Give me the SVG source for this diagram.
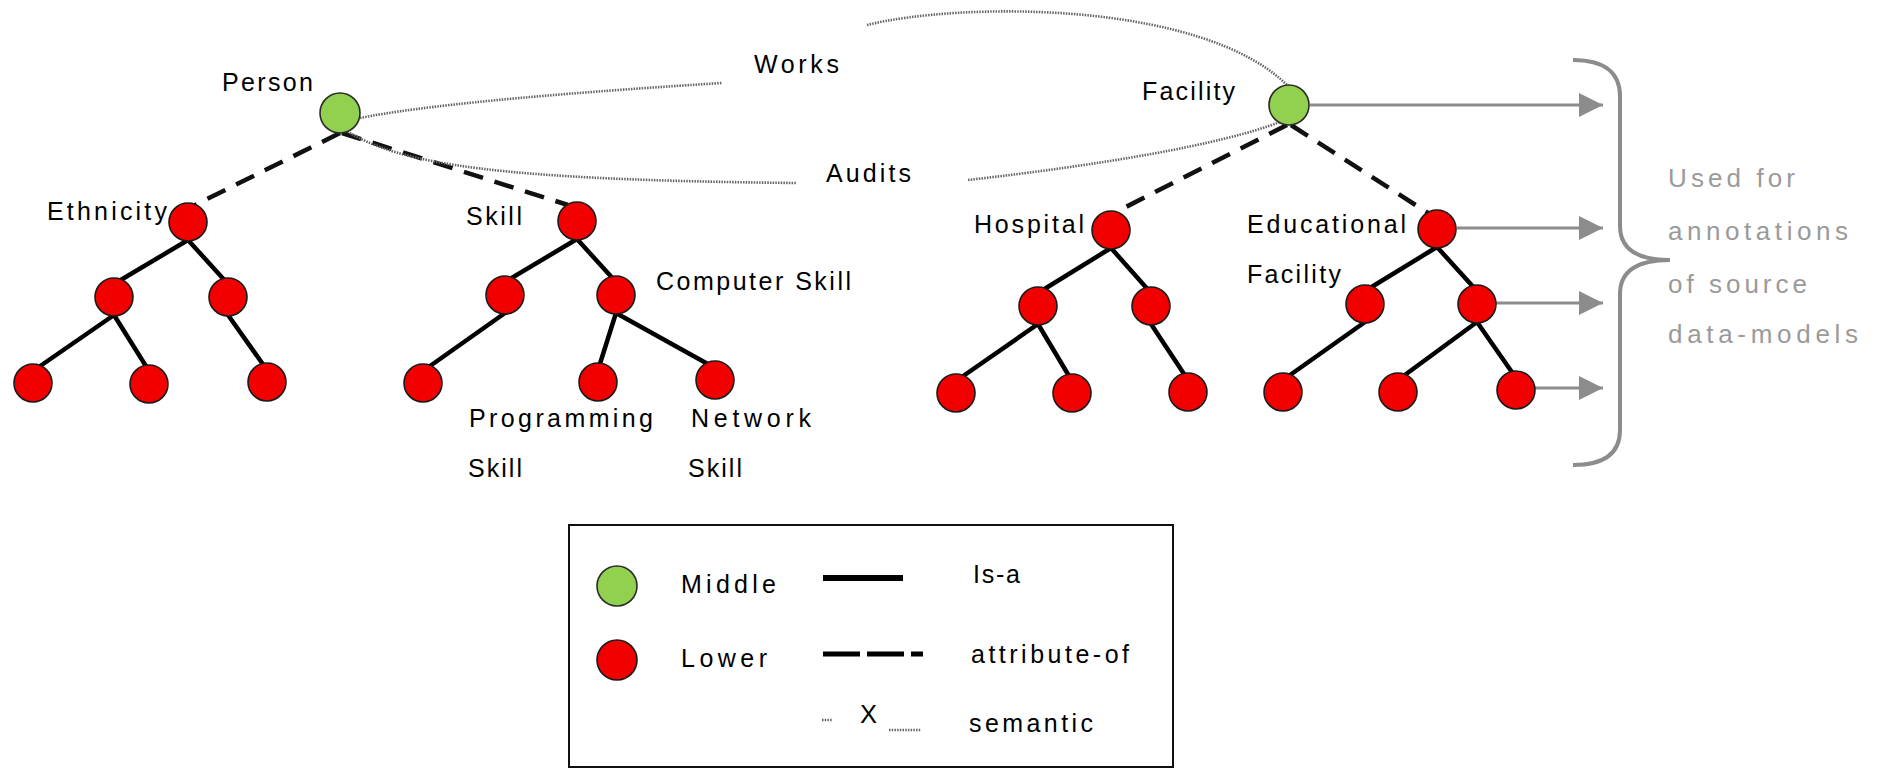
<svg xmlns="http://www.w3.org/2000/svg" width="1879" height="769" viewBox="0 0 1879 769">
  <style>
    .lbl { font-family: "Liberation Sans", Arial, sans-serif; font-size: 25px; fill: #000; }
    .note { font-family: "Liberation Sans", Arial, sans-serif; font-size: 26px; fill: #9a9a9a; }
    .mid { fill: #92d050; stroke: #2a2a2a; stroke-width: 1.6; }
    .low { fill: #f20000; stroke: #1a1a1a; stroke-width: 1.6; }
    .isa { stroke: #000; stroke-width: 4.5; fill: none; stroke-linecap: round; }
    .attr { stroke: #111; stroke-width: 4.5; fill: none; stroke-dasharray: 20 12; }
    .sem { stroke: #666; stroke-width: 2.6; fill: none; stroke-dasharray: 1.5 1.2; }
    .use { stroke: #8c8c8c; stroke-width: 3; fill: none; }
  </style>
  <defs>
    <marker id="tri" markerUnits="userSpaceOnUse" markerWidth="26" markerHeight="26" refX="24" refY="12" orient="auto">
      <path d="M0 0 L24 12 L0 24 Z" fill="#8c8c8c"/>
    </marker>
  </defs>

  <rect width="1879" height="769" fill="#fff"/>

  <!-- connectors -->
  <g id="connectors">
    <!-- is-a edges -->
    <path class="isa" d="M188 240 L114 284 M188 240 L228 284 M114 315 L33 371 M114 315 L149 371 M228 315 L267 370"/>
    <path class="isa" d="M577 239 L505 282 M577 239 L616 282 M505 313 L423 371 M616 313 L598 370 M616 313 L715 368"/>
    <path class="isa" d="M1111 248 L1038 293 M1111 248 L1151 293 M1038 324 L956 381 M1038 324 L1072 381 M1151 324 L1188 380"/>
    <path class="isa" d="M1437 247 L1365 291 M1437 247 L1477 291 M1365 322 L1283 380 M1477 322 L1398 380 M1477 322 L1516 378"/>
    <!-- attribute-of edges -->
    <path class="attr" d="M340 133 L195 205"/>
    <path class="attr" d="M342 133 L568 205"/>
    <path class="attr" d="M1287 125 L1116 212"/>
    <path class="attr" d="M1291 125 L1428 213"/>
    <!-- semantic relations -->
    <path class="sem" d="M360 118 Q 450 100 722 83"/>
    <path class="sem" d="M867 25 C 960 2 1200 0 1287 85"/>
    <path class="sem" d="M345 130 C 400 165 500 180 797 183"/>
    <path class="sem" d="M968 180 C 1100 165 1220 145 1280 122"/>
    <!-- annotation arrows -->
    <line class="use" x1="1310" y1="105" x2="1603" y2="105" marker-end="url(#tri)"/>
    <line class="use" x1="1457" y1="228" x2="1603" y2="228" marker-end="url(#tri)"/>
    <line class="use" x1="1496" y1="303" x2="1603" y2="303" marker-end="url(#tri)"/>
    <line class="use" x1="1535" y1="388" x2="1603" y2="388" marker-end="url(#tri)"/>
  </g>

  <!-- upper-level nodes -->
  <g id="person">
    <circle class="mid" cx="340" cy="113" r="20"/>
    <text class="lbl" x="222" y="91" textLength="91" lengthAdjust="spacing">Person</text>
  </g>
  <g id="facility">
    <circle class="mid" cx="1289" cy="105" r="20"/>
    <text class="lbl" x="1142" y="100" textLength="93" lengthAdjust="spacing">Facility</text>
  </g>

  <!-- Ethnicity tree -->
  <g id="ethnicity">
    <circle class="low" cx="188" cy="222" r="19"/>
    <text class="lbl" x="47" y="220" textLength="120" lengthAdjust="spacing">Ethnicity</text>
  </g>
  <g id="ethnicity-sub">
    <circle class="low" cx="114" cy="297" r="19"/>
    <circle class="low" cx="228" cy="297" r="19"/>
    <circle class="low" cx="33" cy="383" r="19"/>
    <circle class="low" cx="149" cy="384" r="19"/>
    <circle class="low" cx="267" cy="382" r="19"/>
  </g>

  <!-- Skill tree -->
  <g id="skill">
    <circle class="low" cx="577" cy="221" r="19"/>
    <text class="lbl" x="466" y="225" textLength="56" lengthAdjust="spacing">Skill</text>
  </g>
  <g id="skill-other">
    <circle class="low" cx="505" cy="295" r="19"/>
    <circle class="low" cx="423" cy="383" r="19"/>
  </g>
  <g id="computer-skill">
    <circle class="low" cx="616" cy="295" r="19"/>
    <text class="lbl" x="656" y="290" textLength="195" lengthAdjust="spacing">Computer Skill</text>
  </g>
  <g id="programming-skill">
    <circle class="low" cx="598" cy="382" r="19"/>
    <text class="lbl" x="469" y="427" textLength="184" lengthAdjust="spacing">Programming</text>
    <text class="lbl" x="468" y="477" textLength="54" lengthAdjust="spacing">Skill</text>
  </g>
  <g id="network-skill">
    <circle class="low" cx="715" cy="380" r="19"/>
    <text class="lbl" x="691" y="427" textLength="120" lengthAdjust="spacing">Network</text>
    <text class="lbl" x="688" y="477" textLength="54" lengthAdjust="spacing">Skill</text>
  </g>

  <!-- Hospital tree -->
  <g id="hospital">
    <circle class="low" cx="1111" cy="230" r="19"/>
    <text class="lbl" x="974" y="233" textLength="110" lengthAdjust="spacing">Hospital</text>
  </g>
  <g id="hospital-sub">
    <circle class="low" cx="1038" cy="306" r="19"/>
    <circle class="low" cx="1151" cy="306" r="19"/>
    <circle class="low" cx="956" cy="393" r="19"/>
    <circle class="low" cx="1072" cy="393" r="19"/>
    <circle class="low" cx="1188" cy="392" r="19"/>
  </g>

  <!-- Educational Facility tree -->
  <g id="educational-facility">
    <circle class="low" cx="1437" cy="229" r="19"/>
    <text class="lbl" x="1247" y="233" textLength="159" lengthAdjust="spacing">Educational</text>
    <text class="lbl" x="1247" y="283" textLength="94" lengthAdjust="spacing">Facility</text>
  </g>
  <g id="educational-sub">
    <circle class="low" cx="1365" cy="304" r="19"/>
    <circle class="low" cx="1477" cy="304" r="19"/>
    <circle class="low" cx="1283" cy="392" r="19"/>
    <circle class="low" cx="1398" cy="392" r="19"/>
    <circle class="low" cx="1516" cy="390" r="19"/>
  </g>

  <!-- relation labels -->
  <g id="rel-works">
    <text class="lbl" x="754" y="73" textLength="85" lengthAdjust="spacing">Works</text>
  </g>
  <g id="rel-audits">
    <text class="lbl" x="826" y="182" textLength="85" lengthAdjust="spacing">Audits</text>
  </g>

  <!-- brace and note -->
  <g id="annotation-note">
    <path d="M1573 60 C1606 60 1620 74 1620 96 L1620 226 C1620 250 1638 260 1670 260 C1638 260 1620 270 1620 294 L1620 430 C1620 452 1606 465 1573 465" fill="none" stroke="#8c8c8c" stroke-width="4"/>
    <text class="note" x="1668" y="187" textLength="127" lengthAdjust="spacing">Used for</text>
    <text class="note" x="1668" y="240" textLength="180" lengthAdjust="spacing">annotations</text>
    <text class="note" x="1668" y="293" textLength="139" lengthAdjust="spacing">of source</text>
    <text class="note" x="1668" y="343" textLength="190" lengthAdjust="spacing">data-models</text>
  </g>

  <!-- legend -->
  <g id="legend">
    <rect x="569" y="525" width="604" height="242" fill="none" stroke="#111" stroke-width="2"/>
    <circle class="mid" cx="617" cy="586" r="20"/>
    <text class="lbl" x="681" y="593" textLength="95" lengthAdjust="spacing">Middle</text>
    <circle class="low" cx="617" cy="660" r="20"/>
    <text class="lbl" x="681" y="667" textLength="86" lengthAdjust="spacing">Lower</text>
    <line x1="823" y1="578" x2="903" y2="578" stroke="#000" stroke-width="6"/>
    <text class="lbl" x="973" y="583" textLength="47" lengthAdjust="spacing">Is-a</text>
    <line x1="823" y1="654" x2="923" y2="654" stroke="#000" stroke-width="5" stroke-dasharray="37 7"/>
    <text class="lbl" x="971" y="663" textLength="158" lengthAdjust="spacing">attribute-of</text>
    <line x1="822" y1="720" x2="832" y2="720" class="sem"/>
    <text class="lbl" x="860" y="723" textLength="17" lengthAdjust="spacingAndGlyphs">X</text>
    <line x1="889" y1="730" x2="921" y2="730" class="sem"/>
    <text class="lbl" x="969" y="732" textLength="124" lengthAdjust="spacing">semantic</text>
  </g>
</svg>
